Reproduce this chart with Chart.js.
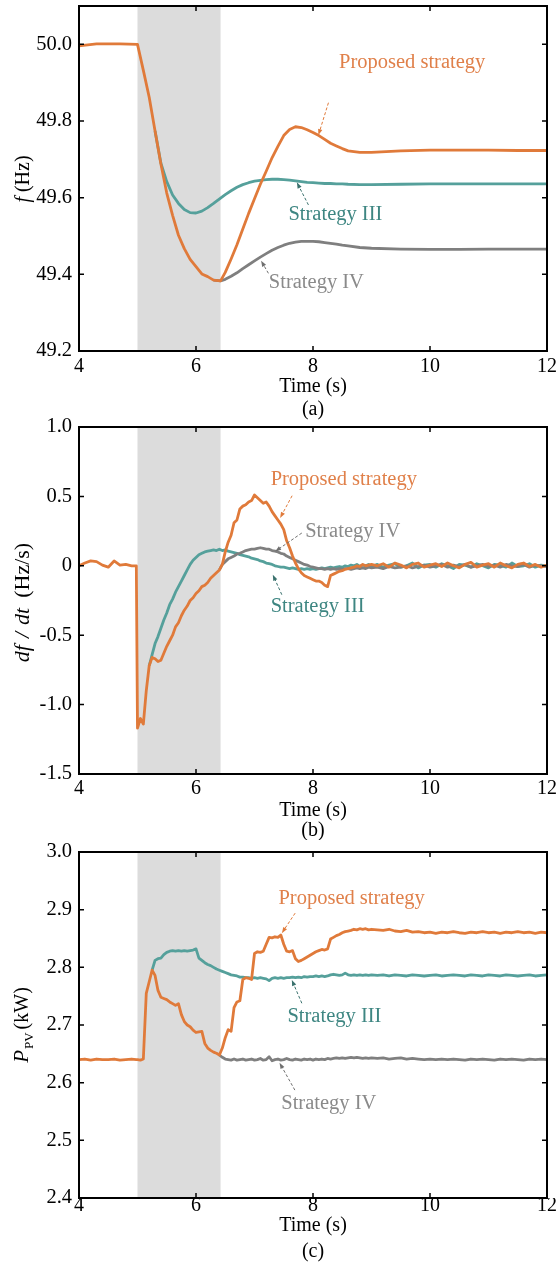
<!DOCTYPE html>
<html>
<head>
<meta charset="utf-8">
<script src="https://cdn.jsdelivr.net/npm/chart.js@4.4.0/dist/chart.umd.min.js"></script>
<style>
  html, body { margin: 0; padding: 0; background: #fff; }
  #wrap { position: relative; width: 558px; height: 1271px; }
  canvas { position: absolute; left: 0; }
</style>
</head>
<body>
<div id="wrap">
  <canvas id="chartA" width="558" height="420" style="top:0"></canvas>
  <canvas id="chartB" width="558" height="430" style="top:410px"></canvas>
  <canvas id="chartC" width="558" height="431" style="top:840px"></canvas>
</div>
<script>
// ---- data ----
const shadeStart = 5.0;
const shadeEnd = 6.42;

// (a) frequency, Hz
const timeA = [4.0, 4.3, 4.7, 5.0, 5.1, 5.2, 5.3, 5.4, 5.5, 5.6, 5.7, 5.8, 5.9, 6.0, 6.1, 6.2, 6.3, 6.42,
  6.5, 6.6, 6.7, 6.8, 6.9, 7.0, 7.1, 7.2, 7.3, 7.4, 7.5, 7.6, 7.7, 7.8, 7.9, 8.0, 8.1, 8.2, 8.3, 8.4, 8.5, 8.6,
  8.8, 9.0, 9.5, 10.0, 10.5, 11.0, 11.5, 12.0];
const freqProposed = [49.996, 50.001, 50.001, 50.0, 49.932, 49.862, 49.774, 49.688, 49.612, 49.554, 49.502, 49.467,
  49.439, 49.42, 49.401, 49.394, 49.385, 49.383,
  49.405, 49.44, 49.477, 49.518, 49.559, 49.597, 49.635, 49.669, 49.704, 49.734, 49.762, 49.778, 49.785, 49.783,
  49.777, 49.77, 49.762, 49.752, 49.742, 49.735, 49.728, 49.722,
  49.718, 49.718, 49.722, 49.724, 49.724, 49.724, 49.723, 49.723];
const freqStrategy3 = [null, null, null, null, null, null, 49.774, 49.69, 49.642, 49.607, 49.585, 49.569,
  49.561, 49.56, 49.565, 49.574, 49.585, 49.599,
  49.608, 49.618, 49.627, 49.634, 49.639, 49.643, 49.645, 49.647, 49.648, 49.648, 49.647, 49.646, 49.644, 49.642,
  49.64, 49.639, 49.638, 49.637, 49.637, 49.636, 49.636, 49.635,
  49.634, 49.634, 49.635, 49.636, 49.636, 49.636, 49.636, 49.636];
const freqStrategy4 = [null, null, null, null, null, null, null, null, null, null, null, null,
  null, null, null, null, 49.385, 49.383,
  49.387, 49.395, 49.404, 49.415, 49.425, 49.435, 49.445, 49.454, 49.463, 49.47, 49.476, 49.481, 49.484, 49.486,
  49.486, 49.486, 49.485, 49.483, 49.481, 49.479, 49.476, 49.474,
  49.47, 49.468, 49.466, 49.465, 49.465, 49.466, 49.466, 49.466];

// (b) df/dt and (c) PV power share this time base
const timeFine = [4.0, 4.1, 4.2, 4.3, 4.4, 4.5, 4.6, 4.7, 4.8, 4.9, 4.98,
  5.0, 5.05, 5.1, 5.15, 5.2, 5.25, 5.3, 5.35, 5.4, 5.45, 5.5, 5.55, 5.6, 5.65, 5.7, 5.75, 5.8, 5.85, 5.9, 5.95,
  6.0, 6.05, 6.1, 6.15, 6.2, 6.25, 6.3, 6.35, 6.4, 6.45, 6.5, 6.55, 6.6, 6.65, 6.7, 6.75, 6.8, 6.85, 6.9, 6.95,
  7.0, 7.05, 7.1, 7.15, 7.2, 7.25, 7.3, 7.35, 7.4, 7.45, 7.5, 7.55, 7.6, 7.65, 7.7, 7.75, 7.8, 7.85, 7.9, 7.95,
  8.0, 8.05, 8.1, 8.15, 8.2, 8.25, 8.3, 8.35, 8.4, 8.45, 8.5, 8.55, 8.6, 8.65, 8.7, 8.75, 8.8, 8.85, 8.9, 8.95,
  9.0,
  9.1, 9.2, 9.3, 9.4, 9.5, 9.6, 9.7, 9.8, 9.9, 10.0, 10.1, 10.2, 10.3, 10.4, 10.5, 10.6, 10.7, 10.8, 10.9, 11.0,
  11.1, 11.2, 11.3, 11.4, 11.5, 11.6, 11.7, 11.8, 11.9, 12.0];

const rocofProposed = [0.0, 0.02, 0.035, 0.03, 0.005, -0.01, 0.035, 0.005, 0.01, 0.0, 0.0,
  -1.17, -1.1, -1.14, -0.9, -0.72, -0.66, -0.67, -0.69, -0.68, -0.63, -0.58, -0.54, -0.5, -0.44, -0.41, -0.36, -0.32, -0.29, -0.25, -0.23,
  -0.2, -0.18, -0.15, -0.14, -0.12, -0.09, -0.07, -0.05, -0.03, 0.01, 0.1, 0.17, 0.22, 0.31, 0.33, 0.41, 0.43, 0.44, 0.46, 0.47,
  0.51, 0.49, 0.47, 0.45, 0.46, 0.43, 0.39, 0.36, 0.33, 0.3, 0.26, 0.18, 0.13, 0.07, 0.02, -0.02, -0.05, -0.07, -0.08, -0.09,
  -0.1, -0.11, -0.11, -0.12, -0.14, -0.15, -0.07, -0.06, -0.05, -0.04, -0.035, -0.025, -0.02, -0.015, -0.01, 0.0, -0.005, 0.01, 0.0, 0.005,
  0.01,
  0.0, 0.015, -0.01, 0.02, 0.005, -0.015, 0.01, 0.02, -0.01, 0.005, 0.015, -0.005, 0.02, 0.0, -0.015,
  0.01, 0.025, -0.01, 0.005, 0.015, -0.01, 0.02, 0.0, -0.015, 0.01, 0.02, -0.005, 0.01, -0.01, 0.005];
const rocofStrategy3 = [null, null, null, null, null, null, null, null, null, null, null,
  null, null, null, null, -0.72, -0.64, -0.56, -0.51, -0.45, -0.39, -0.34, -0.28, -0.24, -0.19, -0.15, -0.11, -0.07, -0.03, 0.01, 0.04,
  0.06, 0.08, 0.09, 0.1, 0.105, 0.11, 0.115, 0.11, 0.12, 0.11, 0.115, 0.105, 0.1, 0.095, 0.09, 0.08, 0.075, 0.07, 0.065, 0.055,
  0.05, 0.045, 0.035, 0.03, 0.02, 0.015, 0.01, 0.0, -0.005, -0.01, -0.01, -0.015, -0.02, -0.015, -0.02, -0.025, -0.02, -0.025, -0.02, -0.025,
  -0.02, -0.025, -0.02, -0.015, -0.02, -0.015, -0.01, -0.015, -0.01, -0.005, -0.01, 0.0, -0.005, 0.005, 0.0, 0.01, -0.005, 0.005, 0.0, 0.01,
  -0.005,
  0.01, -0.01, 0.005, 0.015, -0.01, 0.0, 0.02, -0.015, 0.005, 0.01, -0.01, 0.015, 0.0, -0.02, 0.01,
  0.005, -0.01, 0.015, 0.0, -0.015, 0.01, 0.005, -0.01, 0.02, -0.005, 0.0, 0.015, -0.01, 0.005, 0.0];
const rocofStrategy4 = [null, null, null, null, null, null, null, null, null, null, null,
  null, null, null, null, null, null, null, null, null, null, null, null, null, null, null, null, null, null, null, null,
  null, null, null, null, null, null, null, null, -0.03, 0.01, 0.03, 0.05, 0.06, 0.07, 0.085, 0.09, 0.1, 0.11, 0.115, 0.12,
  0.12, 0.125, 0.13, 0.125, 0.12, 0.12, 0.11, 0.105, 0.1, 0.09, 0.085, 0.07, 0.06, 0.05, 0.04, 0.03, 0.02, 0.01, 0.005, -0.005,
  -0.01, -0.015, -0.02, -0.02, -0.025, -0.02, -0.025, -0.02, -0.025, -0.02, -0.025, -0.02, -0.02, -0.025, -0.02, -0.015, -0.02, -0.015, -0.02, -0.01,
  -0.015,
  -0.01, -0.02, -0.005, -0.015, -0.01, 0.0, -0.015, -0.005, 0.005, -0.01, 0.0, 0.01, -0.01, 0.005, -0.005,
  0.01, -0.01, 0.0, 0.01, -0.005, 0.005, -0.01, 0.01, 0.0, -0.005, 0.01, -0.01, 0.005, 0.0, -0.005];

const ppvProposed = [2.64, 2.641, 2.639, 2.641, 2.64, 2.64, 2.641, 2.639, 2.64, 2.641, 2.64,
  2.64, 2.639, 2.641, 2.755, 2.775, 2.795, 2.786, 2.76, 2.748, 2.746, 2.744, 2.74, 2.737, 2.734, 2.737, 2.718, 2.706, 2.7, 2.697, 2.691,
  2.687, 2.688, 2.689, 2.668, 2.66, 2.656, 2.653, 2.651, 2.648, 2.66, 2.678, 2.692, 2.689, 2.73, 2.74, 2.742, 2.779, 2.782, 2.781, 2.779,
  2.824, 2.827, 2.826, 2.828, 2.84, 2.852, 2.851, 2.853, 2.852, 2.856, 2.84, 2.828, 2.827, 2.829, 2.815, 2.81, 2.812, 2.815, 2.818, 2.821,
  2.824, 2.827, 2.829, 2.831, 2.83, 2.832, 2.849, 2.852, 2.855, 2.857, 2.86, 2.862, 2.863, 2.864, 2.866, 2.865, 2.867, 2.866, 2.867, 2.865,
  2.866,
  2.865, 2.864, 2.866, 2.863, 2.862, 2.864, 2.861, 2.862, 2.86, 2.861, 2.859, 2.861, 2.86, 2.862, 2.86,
  2.859, 2.861, 2.86, 2.862, 2.86, 2.861, 2.859, 2.861, 2.86, 2.862, 2.86, 2.861, 2.859, 2.861, 2.86];
const ppvStrategy3 = [null, null, null, null, null, null, null, null, null, null, null,
  null, null, null, null, null, 2.795, 2.812, 2.815, 2.816, 2.822, 2.826, 2.828, 2.829, 2.828, 2.829, 2.828, 2.829, 2.828, 2.829, 2.83,
  2.832, 2.816, 2.812, 2.808, 2.805, 2.803, 2.8, 2.797, 2.795, 2.793, 2.791, 2.789, 2.787, 2.786, 2.785, 2.783, 2.783, 2.782, 2.782, 2.781,
  2.782, 2.781, 2.782, 2.781, 2.78, 2.777, 2.781, 2.782, 2.781, 2.782, 2.781, 2.782, 2.782, 2.783, 2.782, 2.783, 2.782, 2.784, 2.783, 2.784,
  2.784, 2.785, 2.784, 2.785, 2.784, 2.785, 2.787, 2.788, 2.787, 2.786, 2.787, 2.79, 2.787, 2.786, 2.787, 2.786, 2.787, 2.786, 2.787, 2.786,
  2.787,
  2.786, 2.787, 2.785, 2.787, 2.786, 2.785, 2.787, 2.786, 2.785, 2.786, 2.787, 2.785, 2.786, 2.787, 2.786,
  2.785, 2.787, 2.786, 2.785, 2.787, 2.786, 2.785, 2.787, 2.786, 2.785, 2.786, 2.787, 2.785, 2.786, 2.787];
const ppvStrategy4 = [null, null, null, null, null, null, null, null, null, null, null,
  null, null, null, null, null, null, null, null, null, null, null, null, null, null, null, null, null, null, null, null,
  null, null, null, null, null, null, null, null, 2.648, 2.644, 2.641, 2.64, 2.639, 2.641, 2.639, 2.64, 2.641, 2.639, 2.64, 2.641,
  2.639, 2.64, 2.642, 2.639, 2.64, 2.645, 2.638, 2.64, 2.641, 2.639, 2.64, 2.642, 2.64, 2.639, 2.641, 2.64, 2.639, 2.641, 2.64, 2.641,
  2.639, 2.641, 2.64, 2.641, 2.64, 2.642, 2.641, 2.642, 2.643, 2.642, 2.643, 2.642, 2.643, 2.644, 2.643, 2.644, 2.643, 2.642, 2.643, 2.642,
  2.643,
  2.642, 2.643, 2.641, 2.642, 2.643, 2.641, 2.642, 2.641, 2.64, 2.641, 2.64, 2.641, 2.64, 2.641, 2.64,
  2.639, 2.641, 2.64, 2.641, 2.64, 2.639, 2.641, 2.64, 2.641, 2.64, 2.639, 2.641, 2.64, 2.641, 2.64];

// ---- styling ----
const SERIF = "'Liberation Serif', 'Times New Roman', serif";
const ORANGE = '#e07a3a';
const TEAL = '#55a09b';
const GRAY = '#7f7f7f';
const ORANGE_TXT = '#e0804a';
const TEAL_TXT = '#3e8682';
const GRAY_TXT = '#8a8a8a';
const TEAL_ARROW = '#3a716d';
const GRAY_ARROW = '#6f6f6f';

Chart.defaults.font.family = SERIF;

function points(t, v) {
  return t.map((x, i) => ({ x: x, y: v[i] })).filter(p => p.y !== null);
}

function fontOf(s) {
  return (s.italic ? 'italic ' : '') + s.size + 'px ' + SERIF;
}

function drawRotated(ctx, segs, bx, cy) {
  ctx.save();
  ctx.translate(bx, cy);
  ctx.rotate(-Math.PI / 2);
  ctx.fillStyle = '#000';
  ctx.textAlign = 'left';
  ctx.textBaseline = 'alphabetic';
  let total = 0;
  segs.forEach(s => {
    ctx.font = fontOf(s);
    s.w = ctx.measureText(s.text).width;
    total += (s.gap || 0) + s.w;
  });
  let cx = -total / 2;
  segs.forEach(s => {
    cx += s.gap || 0;
    ctx.font = fontOf(s);
    ctx.fillText(s.text, cx, s.dy || 0);
    cx += s.w;
  });
  ctx.restore();
}

function decor(p) {
  return {
    id: 'decor',
    beforeDatasetsDraw(chart) {
      const { ctx, chartArea: a, scales: { x } } = chart;
      const x0 = x.getPixelForValue(shadeStart);
      const x1 = x.getPixelForValue(shadeEnd);
      ctx.save();
      ctx.fillStyle = '#dcdcdc';
      ctx.fillRect(x0, a.top, x1 - x0, a.bottom - a.top);
      ctx.restore();
    },
    afterDraw(chart) {
      const { ctx, chartArea: a, scales: { x, y } } = chart;
      ctx.save();

      // inward ticks on all four sides, then the box
      ctx.strokeStyle = '#000';
      ctx.lineWidth = 1.5;
      ctx.beginPath();
      x.ticks.forEach(tk => {
        const px = x.getPixelForValue(tk.value);
        ctx.moveTo(px, a.bottom); ctx.lineTo(px, a.bottom - 5);
        ctx.moveTo(px, a.top); ctx.lineTo(px, a.top + 5);
      });
      y.ticks.forEach(tk => {
        const py = y.getPixelForValue(tk.value);
        ctx.moveTo(a.left, py); ctx.lineTo(a.left + 5, py);
        ctx.moveTo(a.right, py); ctx.lineTo(a.right - 5, py);
      });
      ctx.stroke();
      ctx.lineWidth = 2;
      ctx.strokeRect(a.left, a.top, a.right - a.left, a.bottom - a.top);

      // dashed pointer arrows
      p.arrows.forEach(ar => {
        const x0 = x.getPixelForValue(ar.from[0]), y0 = y.getPixelForValue(ar.from[1]);
        const x1 = x.getPixelForValue(ar.to[0]), y1 = y.getPixelForValue(ar.to[1]);
        const ang = Math.atan2(y1 - y0, x1 - x0);
        const c = Math.cos(ang), s = Math.sin(ang);
        ctx.strokeStyle = ar.color;
        ctx.fillStyle = ar.color;
        ctx.lineWidth = 1;
        ctx.setLineDash([3, 2]);
        ctx.beginPath();
        ctx.moveTo(x0, y0);
        ctx.lineTo(x1 - 4 * c, y1 - 4 * s);
        ctx.stroke();
        ctx.setLineDash([]);
        ctx.beginPath();
        ctx.moveTo(x1, y1);
        ctx.lineTo(x1 - 6 * c + 2.2 * s, y1 - 6 * s - 2.2 * c);
        ctx.lineTo(x1 - 6 * c - 2.2 * s, y1 - 6 * s + 2.2 * c);
        ctx.closePath();
        ctx.fill();
      });

      // curve labels
      ctx.textAlign = 'left';
      ctx.textBaseline = 'alphabetic';
      ctx.font = '20.5px ' + SERIF;
      p.notes.forEach(n => {
        ctx.fillStyle = n.color;
        ctx.fillText(n.text, x.getPixelForValue(n.t), y.getPixelForValue(n.v));
      });

      // axis titles and caption
      ctx.fillStyle = '#000';
      ctx.textAlign = 'center';
      ctx.font = '20px ' + SERIF;
      const mid = (a.left + a.right) / 2;
      ctx.fillText('Time (s)', mid, p.xTitleY);
      ctx.fillText(p.caption, mid, p.captionY);
      ctx.restore();

      drawRotated(ctx, p.yTitle, p.yTitleX, p.yTitleY);
    }
  };
}

function makePanel(p) {
  return new Chart(document.getElementById(p.canvas), {
    type: 'line',
    data: {
      datasets: p.series.map(s => ({
        data: points(s.t, s.v),
        borderColor: s.color,
        borderWidth: 2.8,
        pointRadius: 0,
        tension: 0,
        fill: false,
        borderJoinStyle: 'round'
      }))
    },
    options: {
      responsive: false,
      animation: false,
      events: [],
      layout: { padding: { left: 0, right: 11, top: p.top, bottom: 0 } },
      plugins: { legend: { display: false }, tooltip: { enabled: false } },
      scales: {
        x: {
          type: 'linear', min: 4, max: 12,
          grid: { display: false, drawTicks: false },
          border: { display: false },
          afterFit: s => {
            s.height = p.height - p.bottom;
            s.paddingLeft = 0;
            s.paddingRight = 0;
          },
          ticks: {
            stepSize: 2, autoSkip: false, maxRotation: 0, padding: p.xPad,
            color: '#000', font: { size: 20, family: SERIF },
            callback: v => String(v)
          }
        },
        y: {
          type: 'linear', min: p.yMin, max: p.yMax,
          grid: { display: false, drawTicks: false },
          border: { display: false },
          afterFit: s => {
            s.width = 79;
            s.paddingTop = 0;
            s.paddingBottom = 0;
          },
          ticks: {
            stepSize: p.yStep, includeBounds: false, padding: 7,
            color: '#000', font: { size: 20.5, family: SERIF },
            callback: v => Math.abs(v) < 1e-9 ? '0' : v.toFixed(1)
          }
        }
      }
    },
    plugins: [decor(p)]
  });
}

makePanel({
  canvas: 'chartA', height: 420, top: 6, bottom: 351, xPad: 4,
  yMin: 49.2, yMax: 50.1, yStep: 0.2,
  series: [
    { t: timeA, v: freqProposed, color: ORANGE },
    { t: timeA, v: freqStrategy4, color: GRAY },
    { t: timeA, v: freqStrategy3, color: TEAL }
  ],
  notes: [
    { text: 'Proposed strategy', t: 8.444, v: 49.9375, color: ORANGE_TXT },
    { text: 'Strategy III', t: 7.58, v: 49.5417, color: TEAL_TXT },
    { text: 'Strategy IV', t: 7.245, v: 49.3635, color: GRAY_TXT }
  ],
  arrows: [
    { from: [8.264, 49.8477], to: [8.093, 49.7634], color: ORANGE },
    { from: [7.922, 49.581], to: [7.724, 49.64], color: TEAL_ARROW },
    { from: [7.238, 49.4026], to: [7.113, 49.4355], color: GRAY_ARROW }
  ],
  yTitle: [
    { text: 'f', italic: true, size: 20 },
    { text: '(Hz)', size: 20, gap: 5 }
  ],
  yTitleX: 28.5, yTitleY: 179,
  xTitleY: 392, caption: '(a)', captionY: 414.5
});

// canvas (b) starts 10px higher than the panel so the "1.0" label is not cut
makePanel({
  canvas: 'chartB', height: 430, top: 17, bottom: 364, xPad: 3,
  yMin: -1.5, yMax: 1.0, yStep: 0.5,
  series: [
    { t: timeFine, v: rocofProposed, color: ORANGE },
    { t: timeFine, v: rocofStrategy4, color: GRAY },
    { t: timeFine, v: rocofStrategy3, color: TEAL }
  ],
  notes: [
    { text: 'Proposed strategy', t: 7.276, v: 0.579, color: ORANGE_TXT },
    { text: 'Strategy IV', t: 7.866, v: 0.2046, color: GRAY_TXT },
    { text: 'Strategy III', t: 7.276, v: -0.333, color: TEAL_TXT }
  ],
  arrows: [
    { from: [7.643, 0.505], to: [7.438, 0.3444], color: ORANGE },
    { from: [7.809, 0.2363], to: [7.353, 0.1037], color: GRAY_ARROW },
    { from: [7.467, -0.2083], to: [7.313, -0.0642], color: TEAL_ARROW }
  ],
  yTitle: [
    { text: 'df', italic: true, size: 22 },
    { text: '/', italic: true, size: 22, gap: 7 },
    { text: 'dt', italic: true, size: 22, gap: 7 },
    { text: '(Hz/s)', size: 22, gap: 10 }
  ],
  yTitleX: 29, yTitleY: 192.5,
  xTitleY: 405.5, caption: '(b)', captionY: 425.5
});

makePanel({
  canvas: 'chartC', height: 431, top: 12, bottom: 358, xPad: -4,
  yMin: 2.4, yMax: 3.0, yStep: 0.1,
  series: [
    { t: timeFine, v: ppvProposed, color: ORANGE },
    { t: timeFine, v: ppvStrategy4, color: GRAY },
    { t: timeFine, v: ppvStrategy3, color: TEAL }
  ],
  notes: [
    { text: 'Proposed strategy', t: 7.409, v: 2.9102, color: ORANGE_TXT },
    { text: 'Strategy III', t: 7.563, v: 2.7047, color: TEAL_TXT },
    { text: 'Strategy IV', t: 7.457, v: 2.5536, color: GRAY_TXT }
  ],
  arrows: [
    { from: [7.695, 2.894], to: [7.467, 2.8593], color: ORANGE },
    { from: [7.809, 2.7377], to: [7.638, 2.7782], color: TEAL_ARROW },
    { from: [7.69, 2.5871], to: [7.428, 2.6345], color: GRAY_ARROW }
  ],
  yTitle: [
    { text: 'P', italic: true, size: 21 },
    { text: 'PV', size: 13, dy: 5, gap: 1 },
    { text: '(kW)', size: 20, gap: 3 }
  ],
  yTitleX: 28, yTitleY: 185,
  xTitleY: 390.5, caption: '(c)', captionY: 417
});
</script>
</body>
</html>
